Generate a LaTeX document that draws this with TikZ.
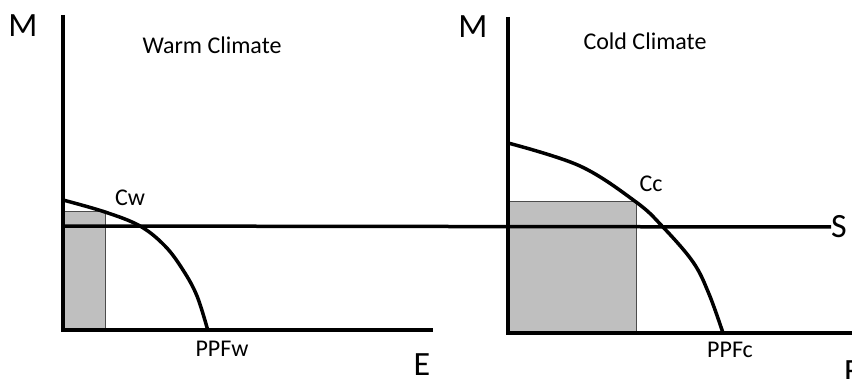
\documentclass[tikz,border=0pt]{standalone}
\usepackage{fontspec}
\setmainfont{Carlito}
\begin{document}
\begin{tikzpicture}[x=1pt,y=-1pt,
  axis/.style={line width=4.5pt},
  curve/.style={line width=3.5pt},
  sline/.style={line width=3.5pt},
  shade/.style={fill=black!25,draw=black!70,line width=1pt},
  big/.style={font=\fontsize{34}{34}\selectfont,inner sep=0pt},
  small/.style={font=\fontsize{24}{24}\selectfont,inner sep=0pt}]
\useasboundingbox (0,0) rectangle (852,379);
% points
\coordinate (oL) at (63,330);
\coordinate (tL) at (63,15);
\coordinate (eL) at (433,330);
\coordinate (cw) at (105,212);
\coordinate (oR) at (508,333);
\coordinate (tR) at (508,17);
\coordinate (eR) at (852,333);
\coordinate (cc) at (636,202);
\coordinate (sStart) at (63,226);
% shaded boxes
\draw[shade] (oL) rectangle (cw);
\draw[shade] (oR) rectangle (cc);
% S line
\node[big,anchor=west] (S) at (831,227) {S};
\draw[sline] (sStart) -- (S.west);
% curves
\draw[curve] plot[smooth,tension=0.6] coordinates {(63,200) (105,212) (140,226) (165,246) (183,270) (197,296) (208,331)};
\draw[curve] plot[smooth,tension=0.6] coordinates {(508,143) (580,166) (636,202) (662,226) (693,262) (709,294) (723,333)};
% axes
\draw[axis] (tL) -- (oL) -- (eL);
\draw[axis] (tR) -- (oR) -- (eR);
% labels
\node[big] (ML) at (23,26) {M};
\node[big] (MR) at (473,27) {M};
\node[big,anchor=base] (EL) at (422,376) {E};
\node[big,anchor=base west] (ER) at (844,383) {E};
\node[small] (warm) at (212,45) {Warm Climate};
\node[small] (cold) at (645,41) {Cold Climate};
\node[small] (lcw) at (130,198) {Cw};
\node[small] (lcc) at (651,184) {Cc};
\node[small] (ppfw) at (222,349) {PPFw};
\node[small] (ppfc) at (730,350) {PPFc};
\end{tikzpicture}
\end{document}
